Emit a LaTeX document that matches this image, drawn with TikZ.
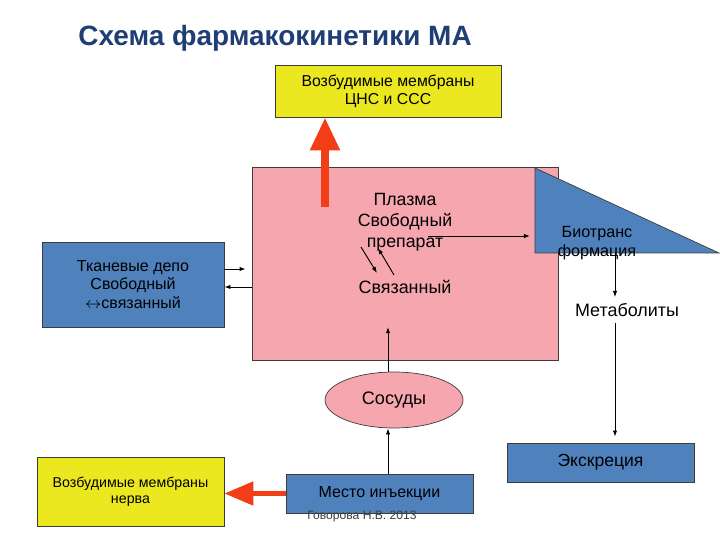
\documentclass[tikz,border=0pt]{standalone}
\usepackage{fontspec}
\setmainfont{Liberation Sans}
\usepackage{xcolor}
\usepackage{tikz}
\usetikzlibrary{calc,arrows.meta,shapes.geometric}

\definecolor{boxyellow}{RGB}{236,232,32}
\definecolor{boxpink}{RGB}{246,166,174}
\definecolor{boxblue}{RGB}{79,129,189}
\definecolor{edgegray}{RGB}{60,60,60}
\definecolor{arrowred}{RGB}{242,62,22}
\definecolor{titleblue}{RGB}{31,62,118}

\tikzset{
  ybox/.style={draw=edgegray,fill=boxyellow,align=center,font=\fontsize{9}{10.5}\selectfont},
  bbox/.style={draw=edgegray,fill=boxblue,align=center},
  thin arrow/.style={->,line width=0.55pt,>={Latex[length=3.5pt,width=2.5pt]}},
  lbl/.style={align=center,inner sep=1pt}
}

\begin{document}
\begin{tikzpicture}[x=0.02cm,y=-0.02cm]
    % --- frame
    \useasboundingbox (0,0) rectangle (720,540);

    % --- title
    \node[anchor=base west,inner sep=0,text=titleblue,font=\fontsize{15.9}{18}\selectfont\bfseries] (title) at (78,46) {Схема фармакокинетики МА};

    % --- boxes
    \node[ybox,minimum width=4.52cm,minimum height=1.04cm,text depth=0.3ex] (cns) at (388,91) {Возбудимые мембраны\\ЦНС и ССС};
    \node[draw=edgegray,fill=boxpink,minimum width=6.12cm,minimum height=3.86cm] (plasma) at (405,263.5) {};
    \node[bbox,minimum width=3.64cm,minimum height=1.70cm,font=\fontsize{9.1}{10.3}\selectfont] (tissue) at (133,284.5) {Тканевые депо\\Свободный\\$\leftrightarrow$связанный};
    \node[bbox,minimum width=3.74cm,minimum height=0.78cm,font=\fontsize{10}{11}\selectfont] (excr) at (600.5,462.5) {Экскреция};
    \node[ellipse,draw=edgegray,fill=boxpink,minimum width=2.76cm,minimum height=1.12cm,font=\fontsize{10.3}{11}\selectfont] (ves) at (394,400) {Сосуды};
    \node[bbox,minimum width=3.74cm,minimum height=0.78cm,font=\fontsize{9.1}{10}\selectfont] (inj) at (379.5,493.5) {Место инъекции};
    \node[ybox,minimum width=3.74cm,minimum height=1.38cm,font=\fontsize{8.1}{8.9}\selectfont] (nerve) at (130.5,491.5) {Возбудимые мембраны\\нерва};

    % --- triangle (biotransformation)
    \coordinate (t1) at (535,168);
    \coordinate (t2) at (535,253);
    \coordinate (t3) at (719,253);
    \draw[edgegray,fill=boxblue] (t1) -- (t2) -- (t3) -- cycle;

    % --- texts
    \node[lbl,font=\fontsize{10.1}{11.9}\selectfont] (free) at (405,222) {Плазма\\Свободный\\препарат};
    \node[lbl,font=\fontsize{10.2}{11}\selectfont] (bound) at (405,287) {Связанный};
    \node[lbl,font=\fontsize{9.2}{10.9}\selectfont] (bio) at (597,243) {Биотранс\\формация};
    \node[font=\fontsize{10.2}{11}\selectfont] (metab) at (627,310) {Метаболиты};
    \node[lbl,text=edgegray,font=\fontsize{6.9}{8}\selectfont] (sign) at (362,517) {Говорова Н.В. 2013};

    % --- helper points
    \coordinate (fa) at (428,236);
    \coordinate (m1) at (615,253);
    \coordinate (va) at (388,327);
    \coordinate (s1) at (361,247);
    \coordinate (s2) at (377,273);
    \coordinate (s3) at (394,275);
    \coordinate (s4) at (378,248);
    \coordinate (ra) at (325,207);

    % --- red arrows
    \draw[arrowred,line width=0.16cm,-{Triangle[length=0.66cm,width=0.56cm]}] (ra) -- (ra |- cns.south);
    \draw[arrowred,line width=0.1cm,-{Triangle[length=0.58cm,width=0.46cm]}] (inj.west) -- (inj.west -| nerve.east);

    % --- thin arrows
    \draw[thin arrow,shorten >=0.12cm] ([yshift=0.31cm]tissue.east) -- ([yshift=0.31cm]tissue.east -| plasma.west);
    \draw[thin arrow] ([yshift=-0.47cm]plasma.west) -- ([yshift=-0.47cm]plasma.west -| tissue.east);
    \draw[thin arrow,shorten >=0.1cm] (fa) -- (fa -| t2);
    \foreach \u/\v in {s1/s2,s3/s4}{\draw[thin arrow] (\u) -- (\v);}
    \draw[thin arrow] (m1) -- (m1 |- metab.north);
    \draw[thin arrow,shorten >=0.12cm] (m1 |- metab.south) -- (m1 |- excr.north);
    \draw[thin arrow] (va |- ves.north) -- (va);
    \draw[thin arrow] (va |- inj.north) -- (va |- ves.south);
\end{tikzpicture}
\end{document}
